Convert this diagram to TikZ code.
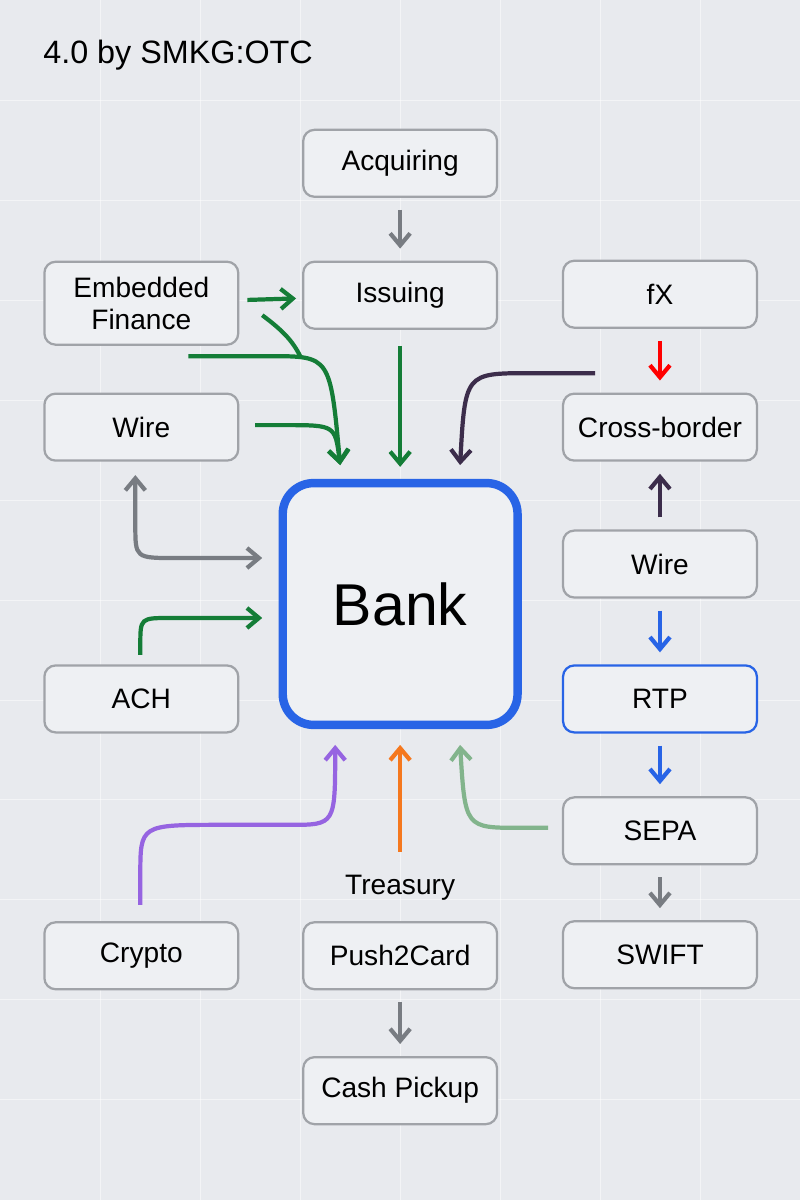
\documentclass[tikz,border=0pt]{standalone}
\usepackage{fontspec}
\setmainfont{Liberation Sans}
\usepackage{xcolor}
\usetikzlibrary{arrows.meta, positioning}
\definecolor{bggray}{RGB}{232,234,238}
\definecolor{boxfill}{RGB}{238,240,243}
\definecolor{boxline}{RGB}{160,163,168}
\definecolor{bankblue}{RGB}{40,100,230}
\definecolor{greenarr}{RGB}{20,125,55}
\definecolor{grayarr}{RGB}{120,124,130}
\definecolor{darkarr}{RGB}{60,45,75}
\definecolor{purplearr}{RGB}{150,100,225}
\definecolor{orangearr}{RGB}{245,120,30}
\definecolor{palegreen}{RGB}{130,180,140}

\begin{document}
\begin{tikzpicture}[
    x=0.025cm, y=-0.025cm,
    % Styles
    box/.style={
        rectangle, rounded corners=8pt,
        minimum width=194*0.025cm, minimum height=67*0.025cm,
        draw=boxline, line width=1.6pt, fill=boxfill,
        font=\fontsize{20}{23}\selectfont, align=center
    },
    bank/.style={
        rectangle, rounded corners=22pt,
        minimum width=235*0.025cm, minimum height=242*0.025cm,
        draw=bankblue, line width=6pt, fill=boxfill,
        font=\fontsize{42}{46}\selectfont
    },
    link/.style={-{Straight Barb[length=3mm,width=5mm]}, line width=3pt},
    gap/.style={shorten <=0.3cm, shorten >=0.3cm}
]

% === BACKGROUND ===
\fill[bggray] (0,0) rectangle (800,1200);
\foreach \x in {100,200,...,700} \draw[white, line width=0.6pt, opacity=0.5] (\x,0) -- (\x,1200);
\foreach \y in {100,200,...,1100} \draw[white, line width=0.6pt, opacity=0.5] (0,\y) -- (800,\y);
\node (title) [anchor=west, font=\fontsize{23}{26}\selectfont] at (38,55) {4.0 by SMKG:OTC};

% === TOP COLUMN ===
\node (acq) [box] at (400,163) {Acquiring};
\node (iss) [box] at (400,295) {Issuing};
\node (bank) [bank] at (400,604) {Bank};
\node (treas) [font=\fontsize{20}{23}\selectfont] at (400,888) {Treasury};
\node (p2c) [box] at (400,956) {Push2Card};
\node (cash) [box] at (400,1091) {Cash Pickup};

% === LEFT COLUMN ===
\node (emb) [box, minimum height=83*0.025cm] at (141,303) {Embedded\\Finance};
\node (wirel) [box] at (141,427) {Wire};
\node (ach) [box] at (141,699) {ACH};
\node (crypto) [box] at (141,956) {Crypto};

% === RIGHT COLUMN ===
\node (fx) [box] at (660,294) {fX};
\node (cross) [box] at (660,427) {Cross-border};
\node (wirer) [box] at (660,564) {Wire};
\node (rtp) [box, draw=bankblue] at (660,699) {RTP};
\node (sepa) [box] at (660,831) {SEPA};
\node (swift) [box] at (660,955) {SWIFT};

% === ARROWS ===
\coordinate (tgl) at (340,465);
\coordinate (tgr) at (460,465);
\draw [link, gap, grayarr] (acq) -- (iss);
\draw [link, greenarr, shorten <=0.2cm, shorten >=0.15cm] (emb) -- (iss);
\draw [link, greenarr, shorten <=0.4cm, shorten >=0.3cm] (iss) -- (bank.north);
\draw [link, greenarr] (188,356) -- (270,356) .. controls (330,356) .. (tgl);
\draw [line width=3pt, greenarr] (262,315) .. controls (282,330) and (292,340) .. (300,356);
\draw [link, greenarr] (255,425) -- (285,425) .. controls (335,425) .. (tgl);
\draw [link, darkarr] (595,373) -- (530,373) .. controls (465,373) .. (tgr);
\draw [link, gap, red] (fx) -- (cross);
\draw [link, gap, darkarr] (wirer) -- (cross);
\draw [link, gap, bankblue] (wirer) -- (rtp);
\draw [link, gap, bankblue] (rtp) -- (sepa);
\draw [link, gap, grayarr] (sepa) -- (swift);
\draw [link, gap, grayarr] (p2c) -- (cash);

% Left side into Bank
\draw [link, grayarr, {Straight Barb[length=3mm,width=5mm]}-{Straight Barb[length=3mm,width=5mm]}] (135,475) -- (135,525) .. controls (135,558) .. (175,558) -- (262,558);
\draw [link, greenarr] (140,655) -- (140,645) .. controls (140,618) .. (170,618) -- (262,618);

% Bottom into Bank
\coordinate (tbl) at (335,745);
\coordinate (tbr) at (460,745);
\draw [link, purplearr] (140,905) -- (140,875) .. controls (140,825) .. (220,825) -- (290,825) .. controls (335,825) .. (tbl);
\draw [link, orangearr] (400,852) -- (400,745);
\draw [link, palegreen] (548,828) -- (520,828) .. controls (465,828) .. (tbr);

\end{tikzpicture}
\end{document}
